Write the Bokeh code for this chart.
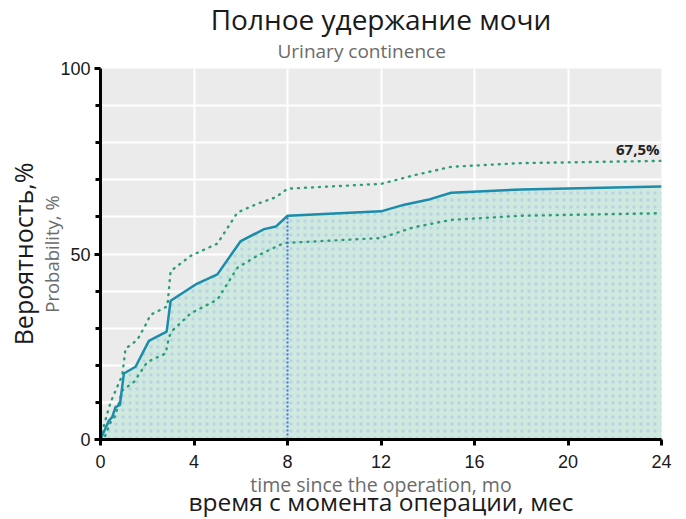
from bokeh.plotting import figure
from bokeh.models import Title, FixedTicker, Range1d, Label
from bokeh.embed import file_html
from bokeh.resources import INLINE

# data
t_main = [0, 0.36, 0.5, 0.64, 0.83, 1.0, 1.5, 2.07, 2.83, 3.0, 4.07, 5.0, 6.0, 7.0, 7.5, 8.0, 12, 13, 14, 15, 18, 24]
v_main = [0, 5.1, 6.0, 8.7, 9.3, 17.8, 19.6, 26.6, 29.1, 37.4, 41.8, 44.5, 53.5, 56.7, 57.4, 60.3, 61.5, 63.3, 64.6, 66.5, 67.4, 68.2]
t_upper = [0, 0.14, 0.43, 0.93, 1.07, 1.57, 1.93, 2.14, 2.86, 3.0, 3.86, 5.0, 5.86, 6.7, 7.5, 8.0, 12, 13.4, 15, 18, 24]
v_upper = [0, 3.7, 10, 17.3, 24.5, 26.8, 30.9, 33.6, 35.9, 45.4, 49.5, 52.8, 61.2, 63.5, 65.3, 67.6, 68.9, 71.2, 73.5, 74.5, 75.1]
t_lower = [0, 0.14, 0.43, 0.64, 0.93, 1.43, 2.0, 2.79, 2.93, 3.1, 3.86, 5.0, 5.86, 6.7, 7.86, 8.0, 12, 13.4, 15, 18, 24]
v_lower = [0, 0, 4.6, 6.5, 13.2, 15.5, 20.9, 23.2, 27.7, 29.5, 34, 37.7, 46.3, 49.5, 53, 53, 54.3, 57.2, 59.2, 60.3, 61]
marker_t = 8
marker_v = 60.3
annot_text = "67,5%"
annot_t = 24
annot_v = 78.3
x_ticks = [0, 4, 8, 12, 16, 20, 24]
y_ticks = [0, 50, 100]
y_minor = [10, 20, 30, 40, 60, 70, 80, 90]
y_grid = [10, 20, 30, 40, 50, 60, 70, 80, 90]

title_ru = "Полное удержание мочи"
title_en = "Urinary continence"
xlabel_en = "time since the operation, mo"
xlabel_ru = "время с момента операции, мес"
ylabel_en = "Probability, %"
ylabel_ru = "Вероятность,%"

p = figure(width=686, height=519, output_backend="svg", toolbar_location=None,
           x_range=Range1d(0, 24), y_range=Range1d(0, 100),
           min_border_left=100, min_border_right=25, min_border_top=68, min_border_bottom=80)
p.background_fill_color = "#ebebeb"
p.border_fill_color = "white"
p.outline_line_color = None

p.varea(x=t_main, y1=[0]*len(t_main), y2=v_main, fill_color="#cfe9df",
        hatch_pattern=".", hatch_color="#b3cde6", hatch_scale=7, hatch_alpha=0.8)
p.line(t_upper, v_upper, line_color="#2e9c7c", line_width=2.4, line_dash="1 6", line_cap="round")
p.line(t_lower, v_lower, line_color="#2e9c7c", line_width=2.4, line_dash="1 6", line_cap="round")
p.line(t_main, v_main, line_color="#1b8caa", line_width=2.5)
p.segment(x0=[marker_t], y0=[0], x1=[marker_t], y1=[marker_v], line_color="#3f73d4",
          line_width=2, line_dash="2 2")
p.add_layout(Label(x=annot_t, y=annot_v, text=annot_text, text_align="right", text_baseline="alphabetic",
                   x_offset=-2, text_font="Open Sans", text_font_style="bold", text_font_size="15px",
                   text_color="#222222"))

# grid
p.xgrid.ticker = FixedTicker(ticks=x_ticks)
p.ygrid.ticker = FixedTicker(ticks=y_grid)
for g in (p.xgrid, p.ygrid):
    g.grid_line_color = "white"
    g.grid_line_width = 2

# axes
p.xaxis.ticker = FixedTicker(ticks=x_ticks)
p.yaxis.ticker = FixedTicker(ticks=y_ticks, minor_ticks=y_minor)
for ax in (p.xaxis, p.yaxis):
    ax.axis_line_width = 3
    ax.axis_line_color = "black"
    ax.major_tick_line_width = 3
    ax.major_tick_line_color = "black"
    ax.major_tick_out = 6
    ax.major_tick_in = 0
    ax.minor_tick_line_width = 3
    ax.minor_tick_line_color = "black"
    ax.minor_tick_out = 5
    ax.minor_tick_in = 0
    ax.major_label_text_font = "Liberation Sans"
    ax.major_label_text_font_size = "18px"
    ax.major_label_text_color = "#1a1a1a"
    ax.axis_label_text_font = "Open Sans"
    ax.axis_label_text_font_style = "normal"
    ax.axis_label_text_color = "#6b6b6b"
p.xaxis.axis_label_text_font_size = "19.5px"
p.yaxis.axis_label_text_font_size = "18.5px"
p.xaxis.major_label_standoff = 9
p.yaxis.major_label_standoff = 4
p.xaxis.axis_label = xlabel_en
p.yaxis.axis_label = ylabel_en
p.xaxis.axis_label_standoff = 0
p.yaxis.axis_label_standoff = -7

# titles
p.add_layout(Title(text=title_en, align="left", offset=177, vertical_align="top", text_font="Open Sans",
                   text_font_style="normal", text_font_size="19px", text_color="#6b6b6b",
                   standoff=5), "above")
p.add_layout(Title(text=title_ru, align="center", vertical_align="top", text_font="Open Sans",
                   text_font_style="normal", text_font_size="28px", text_color="#1a1a1a",
                   standoff=-9), "above")
p.add_layout(Title(text=xlabel_ru, align="center", vertical_align="bottom", text_font="Open Sans",
                   text_font_style="normal", text_font_size="24.5px", text_color="#1a1a1a",
                   standoff=-35), "below")
p.add_layout(Title(text=ylabel_ru, align="center", vertical_align="top", text_font="Open Sans",
                   text_font_style="normal", text_font_size="25px", text_color="#1a1a1a",
                   standoff=-10), "left")

open("out.html", "w").write(file_html(p, INLINE))
